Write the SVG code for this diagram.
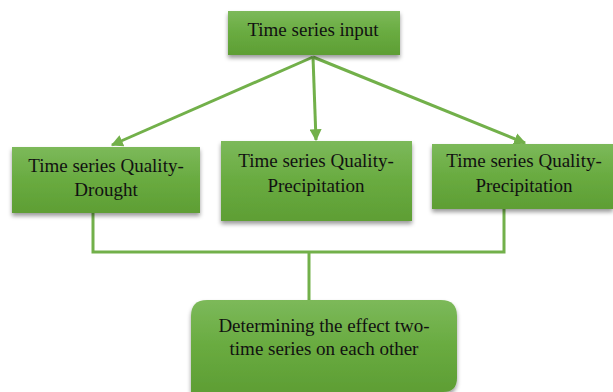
<svg xmlns="http://www.w3.org/2000/svg" width="613" height="392" viewBox="0 0 613 392">
<style>
.box{fill:url(#g);filter:url(#sh)}
.t{font-family:"Liberation Serif","Times New Roman",serif;font-size:19px;fill:#111;text-anchor:middle}
.c{stroke:#72b04a;stroke-width:3;fill:none}
</style>
<defs>
<linearGradient id="g" x1="0" y1="0" x2="0" y2="1">
<stop offset="0" stop-color="#7cb95a"/>
<stop offset="0.5" stop-color="#69ab40"/>
<stop offset="1" stop-color="#5e9e34"/>
</linearGradient>
<filter id="sh" x="-10%" y="-10%" width="120%" height="130%">
<feDropShadow dx="0" dy="3" stdDeviation="2" flood-color="#000" flood-opacity="0.4"/>
</filter>
<marker id="a" viewBox="0 0 10 10" refX="9" refY="5" markerWidth="4" markerHeight="4" orient="auto" markerUnits="strokeWidth">
<path d="M0,0 L10,5 L0,10 z" fill="#72b04a"/>
</marker>
</defs>
<g id="connectors">
<line class="c" x1="313" y1="57" x2="112" y2="145" marker-end="url(#a)"/>
<line class="c" x1="313" y1="57" x2="316" y2="140" marker-end="url(#a)"/>
<line class="c" x1="313" y1="57" x2="525" y2="143" marker-end="url(#a)"/>
<polyline class="c" points="93,213 93,252 504,252 504,209"/>
<line class="c" x1="309" y1="252" x2="309" y2="300"/>
</g>
<g id="n1">
<rect class="box" x="228" y="11" width="172" height="44"/>
<text class="t" x="313" y="36">Time series input</text>
</g>
<g id="n2">
<rect class="box" x="12" y="147" width="188" height="66"/>
<text class="t" x="106" y="172">Time series Quality-</text>
<text class="t" x="106" y="196">Drought</text>
</g>
<g id="n3">
<rect class="box" x="221" y="141" width="191" height="80"/>
<text class="t" x="316" y="167">Time series Quality-</text>
<text class="t" x="316" y="192">Precipitation</text>
</g>
<g id="n4">
<rect class="box" x="432" y="144" width="181" height="65"/>
<text class="t" x="524" y="167">Time series Quality-</text>
<text class="t" x="524" y="192">Precipitation</text>
</g>
<g id="n5">
<path class="box" d="M191,316 Q191,300 207,300 L441,300 Q457,300 457,316 L457,378 Q457,392 443,392 L191,392 Z"/>
<text class="t" x="324" y="332">Determining the effect two-</text>
<text class="t" x="324" y="355">time series on each other</text>
</g>
</svg>
